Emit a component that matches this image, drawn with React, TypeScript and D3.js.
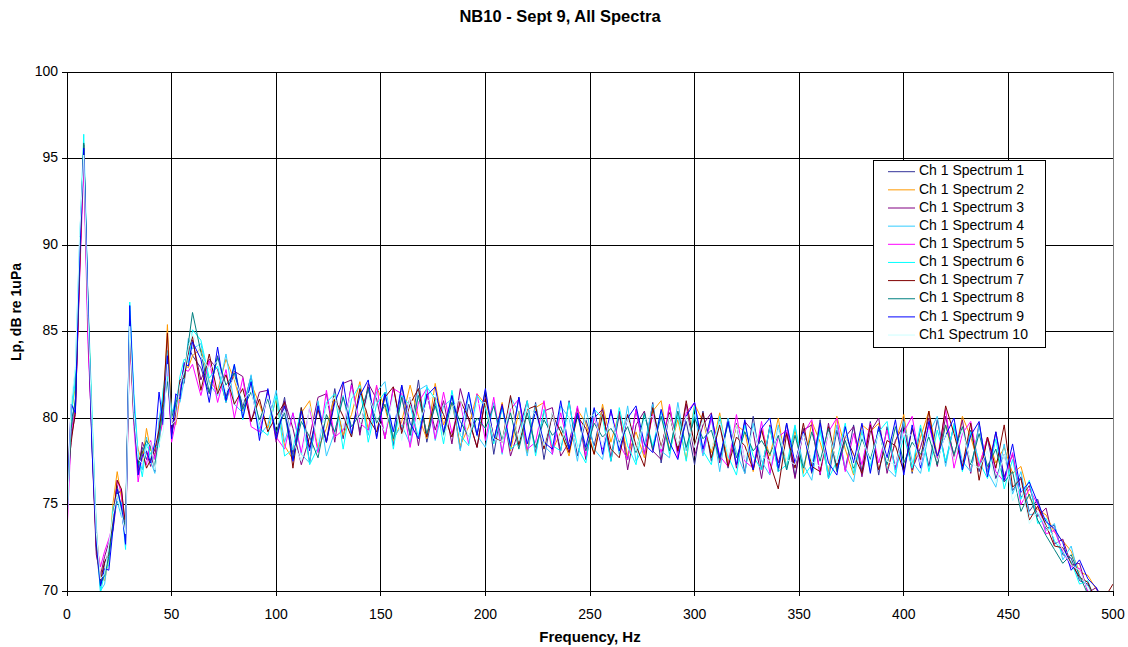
import React from "react";
import * as d3 from "d3";

// frequency grid (Hz) shared by all spectra
const freqs = [
  0, 2, 4, 6, 8, 10, 12, 14, 16, 18, 20, 22, 24, 26, 28, 30, 32, 34, 36, 38, 40, 42, 44, 46, 48, 50, 52, 54, 56, 58, 60,
  64, 68, 72, 76, 80, 84, 88, 92, 96, 100, 104, 108, 112, 116, 120, 124, 128, 132, 136, 140, 144, 148, 152, 156, 160,
  164, 168, 172, 176, 180, 184, 188, 192, 196, 200, 204, 208, 212, 216, 220, 224, 228, 232, 236, 240, 244, 248, 252,
  256, 260, 264, 268, 272, 276, 280, 284, 288, 292, 296, 300, 304, 308, 312, 316, 320, 324, 328, 332, 336, 340, 344,
  348, 352, 356, 360, 364, 368, 372, 376, 380, 384, 388, 392, 396, 400, 404, 408, 412, 416, 420, 424, 428, 432, 436,
  440, 444, 448, 452, 456, 460, 464, 468, 472, 476, 480, 484, 488, 492, 496, 500,
];

const spectrum1 = [
  74.2, 79.8, 80.9, 88.5, 95.3, 85.2, 78.5, 72.4, 70.2, 71.6, 72.3, 74.5, 76.1, 74.6, 73.1, 84.8, 80.6, 77.1, 78.3, 77.6, 78.4, 76.9, 79.6, 81.2, 82.8, 79.1, 80.8, 82.1, 82.0, 84.1, 83.6,
  82.9, 81.4, 83.6, 81.2, 83.0, 80.6, 82.4, 79.5, 81.6, 79.0,
  81.2, 77.9, 80.6, 77.4, 80.9, 78.6, 81.7, 78.8, 82.0, 79.2,
  81.8, 78.9, 81.5, 78.4, 81.9, 79.0, 82.2, 78.6, 80.9, 79.1,
  81.3, 78.2, 80.8, 79.0, 81.6, 77.9, 80.7, 78.3, 81.2, 78.0,
  80.9, 77.6, 80.3, 78.1, 81.0, 77.8, 79.9, 78.4, 80.6, 77.5,
  80.2, 77.6, 80.5, 77.9, 80.9, 77.4, 80.3, 78.0, 79.8, 77.3,
  80.4, 77.5, 79.9, 77.1, 79.7, 76.8, 80.1, 77.0, 79.5, 76.9,
  79.7, 76.6, 79.4, 76.8, 79.9, 76.5, 79.3, 77.0, 79.6, 76.9,
  79.8, 76.7, 79.5, 77.1, 80.0, 76.8, 79.4, 77.2, 79.9, 77.4,
  79.6, 77.0, 79.3, 76.9, 78.8, 76.5, 77.9, 75.8, 76.6, 74.6,
  75.3, 73.6, 73.8, 72.1, 71.9, 70.6, 70.4, 69.3, 68.9, 69.5,
];

const spectrum2 = [
  75.6, 80.3, 81.8, 89.6, 94.8, 86.9, 79.4, 73.5, 70.8, 70.6, 71.9, 75.1, 76.9, 75.4, 72.9, 85.2, 79.7, 78.2, 77.4, 79.4, 78.1, 77.9, 78.6, 80.4, 85.4, 79.8, 79.6, 81.2, 83.1, 82.9, 83.6,
  84.0, 82.1, 81.6, 83.4, 82.2, 80.4, 82.0, 80.8, 79.4, 81.1,
  78.4, 77.6, 80.3, 81.0, 78.2, 79.4, 81.3, 79.0, 80.2, 82.1,
  79.3, 81.8, 80.6, 78.7, 79.8, 81.9, 80.1, 78.8, 82.0, 79.6,
  80.9, 78.4, 79.5, 81.4, 80.8, 78.6, 80.9, 78.1, 80.4, 78.0,
  80.6, 80.9, 78.1, 79.2, 77.8, 80.5, 79.7, 77.9, 80.8, 78.6,
  80.3, 77.8, 79.2, 77.7, 80.4, 81.0, 78.1, 79.9, 77.6, 80.8,
  79.8, 78.0, 80.3, 77.4, 79.6, 79.2, 76.9, 79.4, 77.8, 80.0,
  77.1, 79.3, 76.8, 79.8, 78.6, 76.9, 80.1, 78.2, 76.7, 79.6,
  79.2, 79.7, 77.0, 78.6, 80.2, 76.9, 78.9, 80.4, 77.8, 79.6,
  77.6, 80.1, 78.9, 77.2, 78.9, 77.4, 78.3, 76.8, 77.2, 75.4,
  74.7, 74.4, 73.4, 72.9, 72.3, 71.1, 70.9, 70.1, 69.7, 69.6,
];

const spectrum3 = [
  74.8, 78.9, 80.2, 88.8, 95.1, 85.6, 78.2, 72.1, 70.9, 72.0, 72.8, 73.5, 75.5, 75.9, 73.4, 85.9, 80.3, 76.8, 78.6, 78.0, 77.2, 77.9, 79.2, 80.9, 83.3, 79.0, 80.2, 81.8, 83.0, 83.7, 84.5,
  82.2, 83.4, 82.8, 80.9, 82.7, 82.4, 79.8, 81.5, 81.6, 78.6,
  81.0, 79.4, 77.3, 78.9, 81.2, 81.4, 78.6, 82.0, 82.2, 79.0,
  82.0, 81.1, 78.8, 81.8, 79.3, 81.2, 78.4, 81.4, 79.3, 81.0,
  78.5, 81.7, 79.9, 78.3, 81.2, 78.7, 80.8, 77.8, 79.3, 81.0,
  78.0, 80.4, 80.6, 77.8, 78.6, 80.6, 77.6, 80.0, 80.5, 77.7,
  80.4, 77.0, 79.6, 80.4, 78.1, 77.6, 80.7, 78.2, 80.8, 77.8,
  79.6, 80.3, 77.4, 80.0, 77.1, 79.8, 79.2, 76.5, 79.6, 77.4,
  79.2, 76.5, 79.3, 79.6, 76.7, 79.7, 77.0, 78.9, 79.5, 76.6,
  79.2, 80.0, 76.8, 78.7, 79.6, 77.0, 78.3, 80.0, 77.2, 80.1,
  77.7, 79.9, 76.8, 79.7, 76.9, 79.2, 76.6, 77.9, 75.4, 76.1,
  74.3, 74.8, 72.7, 73.0, 71.5, 71.6, 69.9, 70.2, 68.8, 69.2,
];

const spectrum4 = [
  73.9, 80.5, 82.8, 90.2, 95.5, 86.3, 79.8, 73.8, 70.0, 70.4, 72.5, 74.2, 75.2, 74.3, 74.0, 86.2, 80.9, 77.7, 77.0, 78.9, 77.5, 76.8, 79.9, 81.5, 83.9, 80.2, 81.1, 80.9, 82.2, 84.6, 84.0,
  84.3, 82.0, 81.3, 83.7, 80.8, 80.3, 82.5, 79.0, 79.6, 81.6,
  78.6, 80.3, 77.9, 77.4, 81.0, 77.8, 79.2, 81.3, 78.9, 81.6,
  79.0, 81.5, 82.1, 78.8, 79.6, 78.5, 81.6, 81.9, 78.7, 80.7,
  81.1, 78.1, 81.4, 79.0, 78.3, 80.9, 77.9, 81.2, 80.3, 77.8,
  80.8, 78.4, 77.9, 80.7, 80.0, 77.5, 80.6, 78.2, 77.6, 80.4,
  77.9, 80.7, 77.5, 78.4, 80.8, 78.1, 77.7, 80.9, 78.1, 80.2,
  77.8, 80.0, 76.9, 80.0, 78.0, 76.8, 79.7, 77.5, 76.7, 79.6,
  77.0, 79.5, 77.3, 76.4, 79.4, 76.7, 79.6, 77.1, 76.3, 79.3,
  76.9, 79.5, 77.1, 76.6, 79.8, 77.5, 76.8, 79.1, 80.1, 77.2,
  79.7, 77.5, 76.9, 79.6, 76.9, 76.0, 78.5, 75.6, 76.9, 74.4,
  74.5, 73.5, 73.9, 71.8, 72.6, 70.7, 70.3, 69.7, 69.4, 69.9,
];

const spectrum5 = [
  73.3, 79.2, 80.6, 87.9, 94.6, 84.4, 78.9, 72.8, 71.4, 72.3, 73.0, 73.9, 76.4, 75.7, 72.6, 84.9, 79.5, 76.3, 77.9, 77.3, 78.7, 77.6, 78.8, 79.9, 82.9, 78.6, 79.8, 81.6, 82.8, 82.7, 83.1,
  81.3, 83.3, 80.9, 82.8, 80.0, 82.3, 79.5, 79.2, 81.4, 78.9,
  78.2, 80.3, 78.0, 80.6, 78.0, 81.6, 78.9, 79.3, 81.9, 79.7,
  79.3, 81.9, 78.8, 81.7, 81.4, 78.3, 80.9, 81.7, 78.8, 81.5,
  79.1, 80.9, 78.5, 81.4, 78.7, 81.2, 78.0, 80.5, 81.1, 78.2,
  78.6, 81.0, 77.9, 80.3, 78.1, 80.7, 77.8, 80.1, 78.2, 80.4,
  78.5, 77.6, 80.5, 77.9, 80.2, 78.0, 80.8, 77.7, 80.3, 80.9,
  78.0, 80.0, 77.8, 77.2, 80.2, 77.5, 77.1, 79.8, 76.8, 78.9,
  79.3, 77.2, 79.1, 79.9, 76.8, 79.2, 80.0, 76.9, 79.1, 77.3,
  79.7, 77.4, 79.3, 77.0, 79.2, 80.1, 77.3, 79.6, 77.6, 80.5,
  77.1, 79.1, 79.8, 77.2, 78.9, 76.9, 76.3, 78.0, 75.0, 75.9,
  75.0, 73.3, 73.5, 72.3, 71.4, 71.3, 70.0, 69.0, 69.5, 69.1,
];

const spectrum6 = [
  74.0, 80.1, 82.2, 89.9, 96.4, 87.0, 80.2, 73.2, 69.9, 71.1, 71.5, 74.8, 75.4, 75.1, 72.4, 86.7, 81.4, 77.9, 76.6, 78.5, 77.9, 78.4, 78.3, 81.7, 82.4, 80.4, 80.5, 82.4, 83.4, 83.2, 85.1,
  84.5, 82.3, 83.0, 80.9, 83.1, 79.9, 82.2, 79.4, 79.0, 81.3,
  77.8, 78.2, 80.6, 77.3, 78.3, 80.9, 81.4, 78.2, 81.1, 81.9,
  78.6, 80.8, 81.5, 78.2, 81.3, 80.7, 78.9, 81.8, 81.1, 78.5,
  81.6, 79.0, 78.4, 81.3, 80.6, 78.5, 80.6, 78.2, 78.6, 81.0,
  77.8, 80.5, 78.4, 78.1, 80.9, 78.3, 77.4, 80.5, 80.0, 77.5,
  80.6, 78.4, 77.3, 80.2, 78.4, 80.4, 77.9, 80.2, 77.5, 80.7,
  78.1, 77.3, 80.1, 77.8, 76.7, 79.6, 77.8, 77.0, 79.5, 76.9,
  77.3, 79.6, 76.6, 77.3, 79.3, 76.5, 77.5, 79.7, 76.8, 79.1,
  77.2, 79.2, 79.8, 76.8, 79.0, 77.1, 79.6, 76.9, 79.3, 77.5,
  79.6, 76.9, 79.2, 77.5, 76.5, 78.8, 75.9, 77.6, 75.3, 76.4,
  73.9, 74.2, 72.9, 72.2, 71.7, 70.4, 70.6, 69.2, 69.0, 69.4,
];

const spectrum7 = [
  76.2, 78.6, 80.4, 88.2, 95.8, 85.8, 78.8, 72.6, 70.6, 71.7, 72.1, 74.1, 76.4, 75.9, 73.8, 85.1, 80.1, 77.4, 78.1, 77.1, 77.6, 78.2, 79.3, 81.0, 84.9, 79.4, 80.1, 82.2, 82.3, 83.9, 84.7,
  81.6, 83.7, 81.4, 82.5, 80.8, 81.7, 79.8, 81.1, 79.2, 80.1,
  80.9, 77.1, 80.6, 78.3, 80.5, 78.6, 81.1, 80.1, 78.9, 81.7,
  80.0, 79.2, 81.2, 81.8, 79.1, 80.8, 81.7, 78.9, 81.2, 80.2,
  78.9, 81.0, 80.0, 78.3, 81.1, 78.9, 78.6, 81.3, 78.4, 80.5,
  80.7, 78.2, 80.2, 79.2, 78.0, 80.1, 79.4, 77.9, 80.2, 78.2,
  77.7, 80.2, 78.4, 77.2, 80.6, 78.3, 80.3, 78.1, 81.0, 78.4,
  80.3, 77.7, 79.6, 77.2, 78.9, 78.4, 77.0, 79.3, 77.4, 75.9,
  79.1, 77.1, 79.7, 77.2, 76.9, 79.5, 77.2, 79.0, 77.9, 76.8,
  79.6, 77.0, 78.7, 78.4, 76.9, 79.4, 77.6, 80.4, 77.3, 80.7,
  79.1, 77.2, 79.7, 76.4, 78.9, 77.1, 79.6, 76.0, 76.5, 74.1,
  74.9, 73.8, 72.6, 72.5, 71.6, 70.8, 70.5, 69.4, 69.6, 70.4,
];

const spectrum8 = [
  74.6, 79.4, 81.1, 89.2, 95.9, 86.6, 79.2, 73.0, 70.4, 70.9, 72.0, 73.8, 75.7, 74.8, 73.6, 85.6, 79.9, 77.3, 78.0, 78.7, 78.3, 77.2, 78.9, 80.6, 82.1, 80.0, 80.9, 81.4, 82.6, 84.3, 86.1,
  83.8, 81.5, 83.5, 81.9, 82.6, 80.5, 81.5, 79.9, 81.1, 79.2,
  80.3, 77.6, 79.8, 78.9, 77.7, 80.2, 79.2, 81.2, 79.5, 80.2,
  81.7, 79.7, 80.8, 78.8, 81.2, 79.0, 81.3, 79.1, 80.7, 79.0,
  80.9, 79.8, 78.9, 80.0, 79.4, 80.7, 78.7, 80.3, 78.2, 80.3,
  78.3, 79.9, 79.0, 79.5, 78.2, 80.2, 78.1, 79.7, 78.9, 79.4,
  78.6, 79.5, 78.0, 80.3, 78.2, 80.1, 78.1, 80.4, 78.3, 80.0,
  78.8, 79.3, 77.6, 79.7, 77.7, 79.2, 78.1, 78.7, 77.9, 79.0,
  77.0, 79.0, 77.1, 79.2, 77.5, 79.4, 76.9, 78.7, 77.1, 78.8,
  77.6, 79.3, 77.3, 79.5, 77.4, 78.6, 77.9, 78.9, 77.3, 79.6,
  77.9, 79.5, 77.3, 79.1, 77.2, 78.2, 76.3, 76.9, 74.6, 75.6,
  74.1, 73.2, 72.4, 71.6, 72.1, 70.9, 69.8, 69.5, 69.1, 69.6,
];

const spectrum9 = [
  75.3, 80.8, 80.3, 89.4, 95.6, 86.8, 78.1, 72.9, 70.3, 71.3, 71.2, 73.6, 75.9, 74.9, 72.7, 86.5, 80.8, 76.7, 77.8, 78.1, 77.4, 78.6, 81.5, 79.6, 83.6, 78.8, 81.4, 81.1, 83.2, 83.0, 84.4,
  83.4, 80.9, 84.1, 81.0, 83.1, 80.0, 82.1, 78.7, 81.7, 78.8,
  80.7, 77.5, 80.4, 78.1, 80.7, 78.6, 80.9, 82.1, 79.1, 81.3,
  82.2, 78.8, 81.4, 79.2, 81.9, 79.7, 78.8, 81.3, 81.8, 79.2,
  81.3, 79.2, 81.5, 79.0, 81.7, 78.7, 80.7, 78.4, 81.2, 78.5,
  80.4, 78.6, 78.2, 81.0, 78.2, 80.3, 78.3, 80.6, 77.9, 80.5,
  78.1, 80.0, 80.7, 78.5, 78.0, 80.5, 78.6, 77.6, 80.1, 80.9,
  78.2, 80.2, 77.7, 79.8, 77.3, 79.9, 77.0, 79.4, 80.0, 77.1,
  79.7, 77.4, 79.2, 76.9, 79.7, 77.4, 76.7, 79.5, 77.4, 79.7,
  76.8, 79.5, 77.7, 79.9, 76.7, 79.6, 77.1, 79.8, 77.8, 79.0,
  80.0, 77.0, 79.0, 79.8, 76.6, 79.2, 76.4, 78.5, 75.7, 76.3,
  75.1, 74.0, 73.6, 72.8, 71.2, 71.8, 70.7, 70.2, 69.3, 69.8,
];

const spectrum10 = [
  73.6, 81.0, 82.9, 90.5, 95.2, 85.9, 79.6, 73.4, 70.7, 71.0, 72.7, 74.4, 75.6, 74.5, 73.3, 85.3, 80.3, 77.6, 77.4, 78.3, 78.6, 77.0, 78.5, 79.2, 83.1, 79.6, 79.9, 81.9, 82.7, 84.0, 84.9,
  83.6, 82.8, 83.3, 81.5, 82.3, 81.0, 81.6, 79.5, 81.3, 79.5,
  80.5, 78.7, 77.5, 80.7, 78.6, 80.6, 81.2, 79.4, 81.6, 79.5,
  81.3, 80.0, 79.2, 81.3, 78.7, 81.2, 79.6, 80.9, 81.4, 78.8,
  80.6, 81.1, 78.8, 80.8, 80.9, 78.8, 78.6, 80.9, 78.7, 80.6,
  80.2, 78.4, 80.3, 78.5, 80.1, 78.2, 80.0, 80.2, 78.3, 80.1,
  78.4, 80.0, 78.1, 79.9, 80.1, 78.2, 80.2, 78.4, 80.1, 78.3,
  79.9, 78.2, 79.8, 77.9, 79.6, 77.6, 79.4, 77.8, 77.5, 79.3,
  77.6, 77.3, 79.1, 77.5, 77.2, 79.2, 77.4, 79.1, 77.2, 79.0,
  77.4, 79.2, 77.5, 77.3, 79.1, 79.0, 77.3, 79.3, 77.5, 79.1,
  77.6, 79.3, 77.4, 77.1, 78.1, 76.2, 77.9, 75.2, 76.1, 73.9,
  74.6, 73.7, 73.1, 72.4, 71.5, 71.2, 70.1, 69.6, 69.3, 69.7,
];

const seriesNames = [
  "Ch 1 Spectrum 1",
  "Ch 1 Spectrum 2",
  "Ch 1 Spectrum 3",
  "Ch 1 Spectrum 4",
  "Ch 1 Spectrum 5",
  "Ch 1 Spectrum 6",
  "Ch 1 Spectrum 7",
  "Ch 1 Spectrum 8",
  "Ch 1 Spectrum 9",
  "Ch1 Spectrum 10",
];
const seriesColors = [
  "#333399", "#FF9900", "#800080", "#33CCFF", "#FF00FF",
  "#00FFFF", "#800000", "#008080", "#0000FF", "#CCFFFF",
];
const seriesValues = [
  spectrum1, spectrum2, spectrum3, spectrum4, spectrum5,
  spectrum6, spectrum7, spectrum8, spectrum9, spectrum10,
];

const xTicks = [0, 50, 100, 150, 200, 250, 300, 350, 400, 450, 500];
const yTicks = [70, 75, 80, 85, 90, 95, 100];

const FONT = "'Liberation Sans', Arial, Helvetica, sans-serif";

export default function App() {
  const width = 1128;
  const height = 647;
  const plot = { left: 67, right: 1113, top: 72, bottom: 591 };

  const x = d3.scaleLinear().domain([0, 500]).range([plot.left, plot.right]);
  const y = d3.scaleLinear().domain([70, 100]).range([plot.bottom, plot.top]);

  const line = d3
    .line<number>()
    .x((_, i) => x(freqs[i]))
    .y((d) => y(d));

  // legend box
  const lg = { x: 873.5, y: 160.5, w: 172, h: 187, row0: 171.7, step: 18.15 };

  return (
    <div>
      <style>{"body{margin:0;overflow:hidden;background:#fff}"}</style>
      <svg width={width} height={height} style={{ display: "block", fontFamily: FONT }}>
        <defs>
          <clipPath id="plotClip">
            <rect x={plot.left} y={plot.top} width={plot.right - plot.left} height={plot.bottom - plot.top} />
          </clipPath>
        </defs>

        <text x={560} y={18} textAnchor="middle" dominantBaseline="middle" fontSize={16.5} fontWeight="bold">
          NB10 - Sept 9, All Spectra
        </text>

        {/* grid */}
        <g shapeRendering="crispEdges">
          {yTicks.map((t) => (
            <line key={"gy" + t} x1={plot.left} x2={plot.right} y1={y(t)} y2={y(t)} stroke="#000" strokeWidth={1} />
          ))}
          {xTicks.slice(1, -1).map((t) => (
            <line key={"gx" + t} x1={x(t)} x2={x(t)} y1={plot.top} y2={plot.bottom} stroke="#000" strokeWidth={1} />
          ))}
          <line x1={plot.right} x2={plot.right} y1={plot.top} y2={plot.bottom} stroke="#808080" />
        </g>

        {/* spectra */}
        <g clipPath="url(#plotClip)">
          {seriesValues.map((vals, i) => (
            <path key={i} d={line(vals) || ""} fill="none" stroke={seriesColors[i]} strokeWidth={1} />
          ))}
        </g>

        {/* axes */}
        <g shapeRendering="crispEdges">
          <line x1={plot.left} x2={plot.left} y1={plot.top} y2={plot.bottom} stroke="#000" />
          <line x1={plot.left} x2={plot.right} y1={plot.bottom} y2={plot.bottom} stroke="#000" />
          {yTicks.map((t) => (
            <line key={"ty" + t} x1={plot.left - 5} x2={plot.left} y1={y(t)} y2={y(t)} stroke="#000" />
          ))}
          {xTicks.map((t) => (
            <line key={"tx" + t} x1={x(t)} x2={x(t)} y1={plot.bottom} y2={plot.bottom + 5} stroke="#000" />
          ))}
        </g>
        {yTicks.map((t) => (
          <text key={"ly" + t} x={58} y={y(t)} textAnchor="end" dominantBaseline="middle" fontSize={14}>
            {t}
          </text>
        ))}
        {xTicks.map((t) => (
          <text key={"lx" + t} x={x(t)} y={615} textAnchor="middle" dominantBaseline="middle" fontSize={14}>
            {t}
          </text>
        ))}

        <text x={590} y={638} textAnchor="middle" dominantBaseline="middle" fontSize={15} fontWeight="bold">
          Frequency, Hz
        </text>
        <text
          transform={`translate(17,312) rotate(-90)`}
          textAnchor="middle"
          dominantBaseline="middle"
          fontSize={14}
          fontWeight="bold"
        >
          Lp, dB re 1uPa
        </text>

        {/* legend */}
        <rect x={lg.x} y={lg.y} width={lg.w} height={lg.h} fill="#fff" stroke="#000" shapeRendering="crispEdges" />
        {seriesNames.map((name, i) => {
          const ry = lg.row0 + i * lg.step;
          return (
            <g key={name}>
              <line x1={888} x2={915} y1={ry} y2={ry} stroke={seriesColors[i]} strokeWidth={1} />
              <text x={919} y={ry} dominantBaseline="middle" fontSize={14}>
                {name}
              </text>
            </g>
          );
        })}
      </svg>
    </div>
  );
}
